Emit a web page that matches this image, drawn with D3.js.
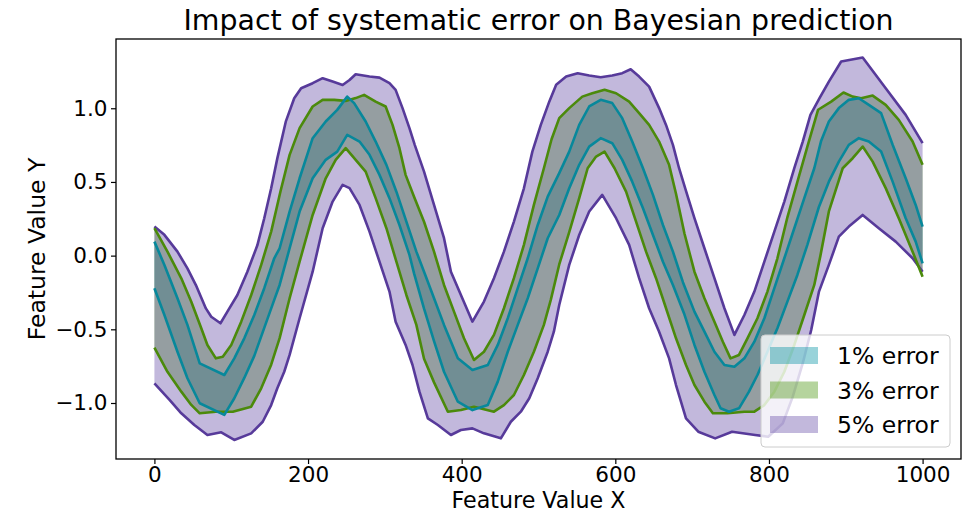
<!DOCTYPE html>
<html><head><meta charset="utf-8">
<script src="https://cdn.jsdelivr.net/npm/d3@7"></script>
<style>body{margin:0;background:#fff;} svg{display:block;} text{font-family:"DejaVu Sans",sans-serif;fill:#000;}</style>
</head><body><svg id="chart" width="969" height="513"></svg>
<script>
const chartTitle = "Impact of systematic error on Bayesian prediction";
const xLabel = "Feature Value X";
const yLabel = "Feature Value Y";
const seriesLabels = ["1% error", "3% error", "5% error"];
const xTicks = [0, 200, 400, 600, 800, 1000];
const yTicks = [-1.0, -0.5, 0.0, 0.5, 1.0];

// 1% error band
const upper1 = [[0,0.095],[13,-0.063],[30,-0.289],[43,-0.470],[59,-0.731],[91,-0.810],[104,-0.697],[117,-0.561],[130,-0.403],[143,-0.221],[156,-0.018],[163,0.050],[176,0.299],[189,0.525],[206,0.797],[223,0.910],[238,0.989],[251,1.079],[260,1.035],[275,0.910],[288,0.774],[302,0.616],[315,0.434],[328,0.231],[341,0.027],[351,-0.109],[364,-0.289],[377,-0.470],[395,-0.697],[414,-0.776],[434,-0.742],[447,-0.606],[460,-0.425],[473,-0.221],[486,-0.018],[499,0.208],[512,0.400],[527,0.560],[540,0.706],[553,0.887],[566,1.012],[581,1.057],[596,1.035],[609,0.933],[622,0.774],[636,0.593],[649,0.412],[662,0.208],[675,0.027],[688,-0.180],[703,-0.380],[716,-0.516],[729,-0.652],[742,-0.742],[755,-0.754],[768,-0.697],[781,-0.584],[794,-0.425],[807,-0.221],[820,-0.018],[833,0.186],[846,0.390],[859,0.593],[868,0.780],[878,0.910],[891,1.001],[904,1.057],[917,1.068],[930,1.023],[946,0.967],[961,0.752],[978,0.525],[991,0.344],[1000,0.197]];
const lower1 = [[0,-0.221],[13,-0.403],[30,-0.652],[43,-0.832],[59,-1.002],[91,-1.081],[104,-0.968],[117,-0.830],[130,-0.680],[143,-0.490],[156,-0.300],[163,-0.199],[176,0.050],[189,0.299],[206,0.525],[223,0.650],[238,0.706],[251,0.819],[267,0.774],[280,0.684],[293,0.548],[306,0.390],[319,0.208],[332,0.005],[338,-0.120],[351,-0.360],[364,-0.580],[377,-0.788],[395,-0.991],[414,-1.048],[434,-1.014],[447,-0.855],[460,-0.652],[473,-0.470],[486,-0.289],[499,-0.086],[512,0.118],[527,0.276],[540,0.457],[553,0.616],[566,0.740],[581,0.797],[596,0.763],[609,0.650],[622,0.502],[636,0.322],[649,0.140],[662,-0.041],[675,-0.199],[690,-0.400],[703,-0.606],[716,-0.788],[729,-0.946],[737,-1.036],[748,-1.059],[761,-1.036],[774,-0.923],[785,-0.810],[798,-0.652],[811,-0.493],[824,-0.312],[837,-0.131],[850,0.073],[865,0.330],[878,0.502],[891,0.638],[904,0.752],[917,0.797],[930,0.774],[946,0.706],[961,0.502],[978,0.254],[991,0.095],[1000,-0.052]];

// 3% error band
const upper3 = [[0,0.186],[17,0.027],[35,-0.154],[48,-0.313],[61,-0.493],[69,-0.606],[80,-0.697],[89,-0.686],[100,-0.606],[113,-0.448],[126,-0.267],[139,-0.063],[152,0.163],[164,0.434],[176,0.684],[189,0.865],[206,1.012],[219,1.057],[234,1.057],[249,1.050],[262,1.069],[273,1.091],[288,1.045],[301,1.012],[310,0.887],[319,0.729],[327,0.548],[338,0.400],[351,0.230],[364,0.027],[377,-0.199],[390,-0.380],[403,-0.561],[416,-0.708],[429,-0.652],[442,-0.538],[455,-0.357],[468,-0.153],[481,0.073],[494,0.344],[507,0.593],[517,0.790],[527,0.933],[540,1.001],[557,1.079],[570,1.102],[586,1.125],[601,1.102],[618,1.045],[631,0.967],[644,0.887],[657,0.774],[670,0.616],[679,0.420],[690,0.150],[703,-0.109],[716,-0.289],[729,-0.448],[740,-0.584],[750,-0.697],[761,-0.674],[772,-0.561],[785,-0.425],[798,-0.244],[811,-0.018],[824,0.260],[837,0.500],[850,0.740],[864,0.990],[881,1.045],[897,1.107],[909,1.079],[920,1.068],[935,1.086],[952,1.023],[969,0.921],[987,0.774],[1000,0.616]];
const lower3 = [[0,-0.625],[17,-0.788],[35,-0.923],[48,-1.013],[59,-1.070],[80,-1.059],[102,-1.059],[126,-1.025],[139,-0.900],[152,-0.740],[163,-0.560],[176,-0.289],[189,-0.041],[206,0.276],[223,0.525],[236,0.650],[249,0.729],[262,0.650],[275,0.570],[288,0.390],[302,0.186],[315,-0.041],[328,-0.267],[341,-0.470],[351,-0.700],[364,-0.860],[382,-1.059],[399,-1.048],[416,-1.025],[442,-1.059],[455,-1.014],[468,-0.946],[481,-0.810],[494,-0.652],[507,-0.470],[516,-0.300],[527,-0.060],[540,0.160],[553,0.390],[564,0.593],[575,0.672],[586,0.706],[599,0.593],[614,0.434],[627,0.231],[640,0.027],[653,-0.153],[666,-0.357],[679,-0.561],[692,-0.742],[703,-0.878],[716,-0.991],[727,-1.070],[746,-1.070],[768,-1.059],[781,-1.059],[794,-1.014],[807,-0.923],[820,-0.788],[833,-0.606],[846,-0.403],[859,-0.199],[867,0.000],[878,0.300],[896,0.593],[909,0.661],[922,0.740],[935,0.638],[952,0.458],[969,0.254],[987,0.027],[1000,-0.143]];

// 5% error band
const upper5 = [[0,0.197],[13,0.141],[30,0.027],[43,-0.086],[54,-0.200],[67,-0.358],[74,-0.415],[86,-0.459],[95,-0.380],[108,-0.267],[121,-0.109],[134,0.070],[143,0.254],[152,0.457],[160,0.660],[171,0.909],[182,1.068],[191,1.136],[206,1.170],[219,1.204],[232,1.181],[245,1.158],[254,1.192],[262,1.231],[280,1.215],[293,1.208],[306,1.170],[314,1.125],[323,1.001],[332,0.865],[339,0.750],[351,0.570],[364,0.344],[377,0.118],[386,-0.109],[399,-0.267],[414,-0.448],[429,-0.312],[442,-0.153],[455,0.027],[468,0.231],[481,0.457],[492,0.706],[503,0.887],[514,1.045],[523,1.159],[536,1.215],[551,1.238],[566,1.222],[581,1.211],[596,1.222],[609,1.238],[620,1.265],[631,1.215],[644,1.147],[657,1.001],[666,0.887],[675,0.752],[683,0.593],[692,0.440],[703,0.254],[716,0.050],[729,-0.153],[742,-0.357],[755,-0.538],[768,-0.403],[781,-0.244],[794,-0.041],[807,0.163],[820,0.367],[833,0.593],[844,0.774],[854,0.955],[866,1.070],[878,1.181],[894,1.317],[922,1.344],[952,1.136],[978,0.955],[1000,0.763]];
const lower5 = [[0,-0.866],[20,-0.980],[35,-1.070],[52,-1.149],[69,-1.217],[87,-1.199],[104,-1.251],[126,-1.206],[141,-1.127],[152,-1.014],[160,-0.900],[169,-0.788],[176,-0.674],[189,-0.425],[206,-0.109],[219,0.186],[232,0.367],[245,0.480],[254,0.458],[267,0.344],[280,0.163],[293,-0.041],[306,-0.244],[314,-0.448],[327,-0.606],[336,-0.742],[345,-0.923],[356,-1.104],[369,-1.149],[386,-1.217],[399,-1.183],[414,-1.172],[429,-1.206],[451,-1.240],[464,-1.127],[477,-1.059],[488,-0.968],[499,-0.832],[512,-0.652],[520,-0.516],[527,-0.335],[540,-0.063],[553,0.140],[566,0.299],[583,0.412],[601,0.254],[618,0.073],[631,-0.153],[644,-0.357],[657,-0.516],[670,-0.697],[679,-0.878],[692,-1.104],[708,-1.195],[730,-1.240],[752,-1.195],[782,-1.217],[799,-1.229],[818,-1.138],[831,-0.957],[844,-0.730],[855,-0.505],[865,-0.246],[878,-0.063],[891,0.129],[904,0.197],[922,0.276],[943,0.186],[965,0.095],[987,-0.018],[1000,-0.109]];

const lineColors = ["#07889b", "#4b8a0b", "#573a9a"];
const fillColors = ["#0090a3", "#479409", "#664ea8"];

const svg = d3.select("#chart");
const L = 116, R = 961, T = 39, B = 459;
const x = d3.scaleLinear().domain([-50, 1050]).range([L, R]);
const y = d3.scaleLinear().domain([-1.38, 1.47]).range([B, T]);

const bands = [
  {upper: upper1, lower: lower1},
  {upper: upper3, lower: lower3},
  {upper: upper5, lower: lower5}
];
const line = d3.line().x(d => x(d[0])).y(d => y(d[1]));

const plot = svg.append("g");
bands.forEach((b, i) => {
  plot.append("path")
    .attr("d", line(b.upper.concat(b.lower.slice().reverse())) + "Z")
    .attr("fill", fillColors[i]).attr("fill-opacity", 0.4).attr("stroke", "none");
});
[2, 1, 0].forEach(i => {
  [bands[i].upper, bands[i].lower].forEach(arr => {
    plot.append("path").attr("d", line(arr))
      .attr("fill", "none").attr("stroke", lineColors[i])
      .attr("stroke-width", 2.6).attr("stroke-linejoin", "round").attr("stroke-linecap", "butt");
  });
});

// axes
const fmtY = d3.format(".1f");
const xAxis = svg.append("g").attr("transform", `translate(0,${B})`)
  .call(d3.axisBottom(x).tickValues(xTicks).tickSize(5).tickPadding(2.5).tickFormat(d3.format("d")));
const yAxis = svg.append("g").attr("transform", `translate(${L},0)`)
  .call(d3.axisLeft(y).tickValues(yTicks).tickSize(5).tickPadding(3.5).tickFormat(fmtY));
[xAxis, yAxis].forEach(a => {
  a.select(".domain").remove();
  a.selectAll(".tick line").attr("stroke", "#000").attr("stroke-width", 1.2);
  a.selectAll(".tick text").attr("font-family", "DejaVu Sans").attr("font-size", 21.5).attr("fill", "#000");
});

svg.append("rect").attr("x", L).attr("y", T).attr("width", R - L).attr("height", B - T)
  .attr("fill", "none").attr("stroke", "#000").attr("stroke-width", 1.3);

// title & labels
svg.append("text").attr("x", (L + R) / 2).attr("y", 30).attr("text-anchor", "middle")
  .attr("font-size", 28.4).text(chartTitle);
svg.append("text").attr("x", (L + R) / 2).attr("y", 507.7).attr("text-anchor", "middle")
  .attr("font-size", 22.2).text(xLabel);
svg.append("text").attr("transform", `translate(45,${(T + B) / 2}) rotate(-90)`).attr("text-anchor", "middle")
  .attr("font-size", 23.5).text(yLabel);

// legend
const lg = svg.append("g");
lg.append("rect").attr("x", 761).attr("y", 335).attr("width", 189).attr("height", 112).attr("rx", 4)
  .attr("fill", "#fff").attr("fill-opacity", 0.8).attr("stroke", "#cccccc").attr("stroke-width", 1);
seriesLabels.forEach((lab, i) => {
  const yy = 347 + i * 34.5;
  lg.append("rect").attr("x", 770).attr("y", yy).attr("width", 48).attr("height", 17)
    .attr("fill", fillColors[i]).attr("fill-opacity", 0.4);
  lg.append("text").attr("x", 837).attr("y", yy + 17).attr("font-size", 23.5).text(lab);
});
</script></body></html>
